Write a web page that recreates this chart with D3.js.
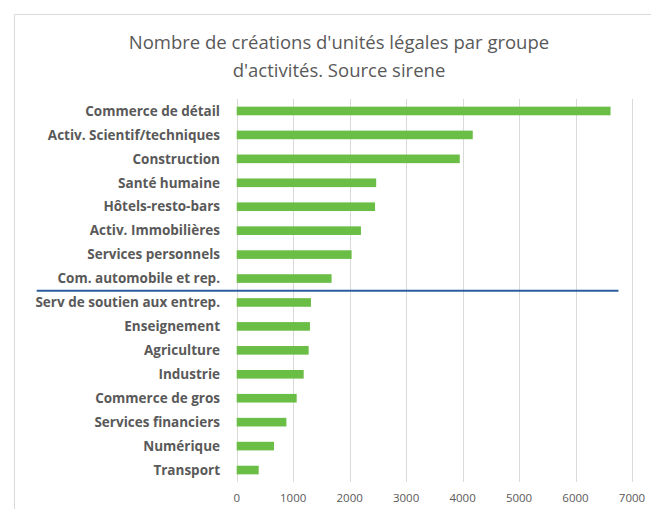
<!DOCTYPE html>
<html>
<head>
<meta charset="UTF-8">
<style>
  body { margin: 0; background: #fff; }
  text { font-family: "Open Sans", Lato, sans-serif; }
</style>
</head>
<body>
<svg></svg>
<script src="https://d3js.org/d3.v7.min.js"></script>
<script>
// data
const categories = [
  "Commerce de détail", "Activ. Scientif/techniques", "Construction", "Santé humaine",
  "Hôtels-resto-bars", "Activ. Immobilières", "Services personnels", "Com. automobile et rep.",
  "Serv de soutien aux entrep.", "Enseignement", "Agriculture", "Industrie",
  "Commerce de gros", "Services financiers", "Numérique", "Transport"
];
const values = [6620, 4180, 3950, 2470, 2450, 2200, 2035, 1680, 1315, 1297, 1274, 1186, 1062, 880, 660, 389];
const xTicks = [0, 1000, 2000, 3000, 4000, 5000, 6000, 7000];
const titleLines = ["Nombre de créations d'unités légales par groupe", "d'activités. Source sirene"];
// blue separator drawn after this category, up to this value
const splitAfter = "Com. automobile et rep.";
const splitEnd = 6760;

let width = 651, height = 509;
let svg = d3.select("svg").attr("width", width).attr("height", height);

// frame (only top and left edges visible)
svg.append("path")
  .attr("d", "M14.5," + height + "V14.5H" + width)
  .attr("fill", "none").attr("stroke", "#d9d9d9").attr("stroke-width", 1);

let x = d3.scaleLinear().domain([0, 7000]).range([236.7, 632]);
let y = d3.scaleBand().domain(categories).range([99, 482])
  .paddingInner(0.64).paddingOuter(0.32);

// gridlines
svg.append("g")
  .selectAll("line")
  .data(xTicks)
  .enter().append("line")
    .attr("x1", d => Math.round(x(d)) + 0.5)
    .attr("x2", d => Math.round(x(d)) + 0.5)
    .attr("y1", 99).attr("y2", 482)
    .attr("stroke", "#d9d9d9");

// bars
svg.append("g")
  .selectAll("rect")
  .data(values)
  .enter().append("rect")
    .attr("x", x(0))
    .attr("y", (d, i) => y(categories[i]))
    .attr("width", d => x(d) - x(0))
    .attr("height", y.bandwidth())
    .attr("fill", "#6abd45");

// x tick labels
svg.append("g")
  .selectAll("text")
  .data(xTicks)
  .enter().append("text")
    .attr("x", d => x(d))
    .attr("y", 502)
    .attr("text-anchor", "middle")
    .attr("font-size", 11.5)
    .attr("fill", "#595959")
    .text(d => d);

// category labels
svg.append("g")
  .selectAll("text")
  .data(categories)
  .enter().append("text")
    .attr("x", 220)
    .attr("y", d => y(d) + y.bandwidth() / 2)
    .attr("dy", "0.35em")
    .attr("text-anchor", "end")
    .attr("font-size", 13.5)
    .attr("font-weight", "bold")
    .attr("fill", "#595959")
    .text(d => d);

// separator line
let sepY = y(splitAfter) + y.step() - (y.step() - y.bandwidth()) / 2 + 0.2;
svg.append("line")
  .attr("x1", 36.7).attr("x2", x(splitEnd))
  .attr("y1", sepY).attr("y2", sepY)
  .attr("stroke", "#2b5c9e").attr("stroke-width", 2);

// title
svg.append("g")
  .selectAll("text")
  .data(titleLines)
  .enter().append("text")
    .attr("x", 339)
    .attr("y", (d, i) => 49 + i * 28)
    .attr("text-anchor", "middle")
    .attr("font-size", 18.5)
    .attr("fill", "#595959")
    .text(d => d);
</script>
</body>
</html>
